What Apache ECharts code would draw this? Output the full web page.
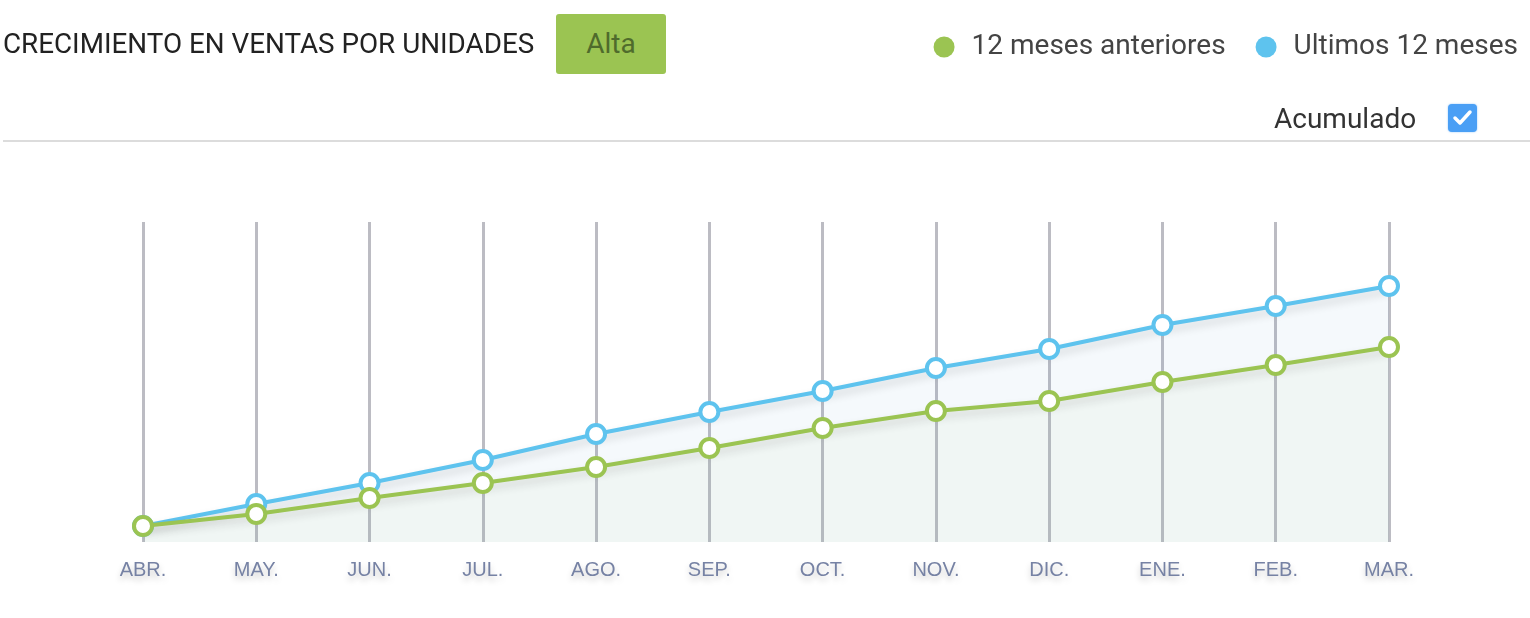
<!DOCTYPE html>
<html>
<head>
<meta charset="utf-8">
<script src="https://cdn.jsdelivr.net/npm/echarts@6/dist/echarts.min.js"></script>
<style>
  html, body { margin: 0; padding: 0; background: #fff; }
  body { width: 1530px; height: 618px; position: relative; overflow: hidden; font-family: Roboto, sans-serif; }
  #chart { position: absolute; left: 0; top: 0; width: 1530px; height: 618px; }
  .title { position: absolute; left: 3px; top: 27px; font-size: 27.8px; line-height: 34px; color: #222; white-space: nowrap; }
  .badge { position: absolute; left: 556px; top: 14px; width: 110px; height: 60px; background: #9bc452;
           border-radius: 3px; color: #4f6b2c; font-size: 28px; line-height: 60px; text-align: center; }
  .acum { position: absolute; left: 1274px; top: 102px; font-size: 28px; line-height: 34px; color: #333; }
  .check { position: absolute; left: 1448px; top: 104px; width: 29px; height: 28px; background: #4a9ff5;
           border-radius: 4px; box-shadow: 0 0 2px rgba(74,159,245,0.6); }
  .check svg { position: absolute; left: 4px; top: 4px; }
  .divider { position: absolute; left: 3px; right: 0; top: 140px; height: 2px; background: #dcdcdc; }
</style>
</head>
<body>
<div id="chart"></div>
<div class="title">CRECIMIENTO EN VENTAS POR UNIDADES</div>
<div class="badge">Alta</div>
<div class="acum">Acumulado</div>
<div class="check"><svg width="21" height="20" viewBox="0 0 21 20"><path d="M3 10 L8 15 L18 4" stroke="#fff" stroke-width="3.5" fill="none" stroke-linecap="round" stroke-linejoin="round"/></svg></div>
<div class="divider"></div>
<script>
const months = ['ABR.', 'MAY.', 'JUN.', 'JUL.', 'AGO.', 'SEP.', 'OCT.', 'NOV.', 'DIC.', 'ENE.', 'FEB.', 'MAR.']
const previous12 = [16, 28, 44, 59, 75, 94, 114, 131, 141, 160, 177, 195]
const last12 = [16, 38, 59, 82, 108, 130, 151, 174, 193, 217, 236, 256]
const previousName = '12 meses anteriores'
const lastName = 'Ultimos 12 meses'

const green = '#9bc452'
const blue = '#5ec3ee'
const lineShadow = { shadowColor: 'rgba(0,0,0,0.16)', shadowBlur: 8, shadowOffsetY: 5 }

const option = {
  animation: false,
  legend: {
    data: [
      { name: previousName, itemStyle: { color: green, borderWidth: 0 } },
      { name: lastName, itemStyle: { color: blue, borderWidth: 0 } }
    ],
    right: 7,
    top: 28,
    icon: 'circle',
    itemWidth: 21,
    itemHeight: 21,
    itemGap: 30,
    textStyle: { fontFamily: 'Roboto', fontSize: 28, color: '#444', padding: [0, 0, 0, 12] }
  },
  grid: { left: 143, right: 141, top: 222, bottom: 76 },
  xAxis: {
    type: 'category',
    data: months,
    boundaryGap: false,
    axisLine: { show: false },
    axisTick: { show: false },
    axisLabel: {
      margin: 18,
      fontFamily: 'Liberation Sans',
      fontSize: 20,
      color: '#7682a4',
      textShadowColor: 'rgba(0,0,0,0.22)',
      textShadowBlur: 6,
      textShadowOffsetY: 4
    },
    splitLine: { show: true, lineStyle: { color: '#bcbcc3', width: 3 } }
  },
  yAxis: { type: 'value', min: 0, max: 320, show: false },
  series: [
    {
      name: lastName,
      type: 'line',
      data: last12,
      color: blue,
      symbol: 'circle',
      symbolSize: 18,
      itemStyle: { color: '#fff', borderColor: blue, borderWidth: 4 },
      lineStyle: Object.assign({ color: blue, width: 4 }, lineShadow),
      areaStyle: { color: 'rgba(80,143,193,0.08)' },
      z: 2
    },
    {
      name: previousName,
      type: 'line',
      data: previous12,
      color: green,
      symbol: 'circle',
      symbolSize: 18,
      itemStyle: { color: '#fff', borderColor: green, borderWidth: 4 },
      lineStyle: Object.assign({ color: green, width: 4 }, lineShadow),
      areaStyle: { color: 'rgba(191,216,140,0.1)' },
      z: 3
    }
  ]
}

const chart = echarts.init(document.getElementById('chart'))
chart.setOption(option)
</script>
</body>
</html>
